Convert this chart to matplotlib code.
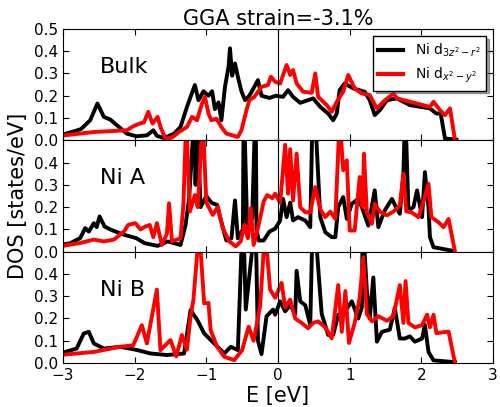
import matplotlib
matplotlib.use('Agg')
import matplotlib.pyplot as plt

# Bulk
e_bulk_z2 = [-3.04, -2.85, -2.75, -2.62, -2.52, -2.43, -2.34, -2.22, -2.11, -1.98, -1.83, -1.74, -1.69,
             -1.59, -1.45, -1.36, -1.27, -1.22, -1.16, -1.11, -1.04, -0.97, -0.92, -0.88, -0.83, -0.79,
             -0.74, -0.69, -0.67, -0.64, -0.60, -0.56, -0.51, -0.46, -0.40, -0.33, -0.28, -0.23, -0.12,
             -0.03, 0.07, 0.14, 0.21, 0.31, 0.49, 0.59, 0.70, 0.77, 0.82, 0.86, 0.93, 1.05, 1.21, 1.28,
             1.35, 1.42, 1.52, 1.66, 1.84, 2.12, 2.21, 2.27, 2.33, 2.49]
dos_bulk_z2 = [0.022, 0.04, 0.05, 0.09, 0.165, 0.105, 0.093, 0.06, 0.03, 0.018, 0.022, 0.045, 0.02,
               0.01, 0.03, 0.06, 0.15, 0.195, 0.248, 0.18, 0.22, 0.2, 0.22, 0.14, 0.17, 0.09,
               0.24, 0.33, 0.413, 0.29, 0.345, 0.285, 0.22, 0.18, 0.2, 0.24, 0.27, 0.2, 0.19,
               0.2, 0.195, 0.225, 0.195, 0.168, 0.188, 0.15, 0.12, 0.09, 0.12, 0.225, 0.255, 0.233, 0.218, 0.18,
               0.113, 0.135, 0.18, 0.188, 0.158, 0.143, 0.12, 0.12, 0.008, 0.003]
e_bulk_x2 = [-3.04, -2.57, -2.11, -2.02, -1.93, -1.87, -1.81, -1.75, -1.68, -1.64, -1.57, -1.48, -1.38,
             -1.27, -1.20, -1.13, -1.06, -1.02, -0.97, -0.93, -0.86, -0.79, -0.72, -0.56, -0.51, -0.44,
             -0.40, -0.33, -0.23, -0.14, -0.10, -0.04, 0.03, 0.12, 0.17, 0.21, 0.26, 0.35, 0.47, 0.52,
             0.56, 0.68, 0.75, 0.82, 0.91, 0.98, 1.07, 1.17, 1.28, 1.38, 1.47, 1.61, 1.66, 1.84, 2.12,
             2.17, 2.26, 2.33, 2.40, 2.47]
dos_bulk_x2 = [0.02, 0.037, 0.045, 0.063, 0.075, 0.08, 0.128, 0.075, 0.105, 0.06, 0.007, 0.012, 0.037,
               0.06, 0.105, 0.09, 0.165, 0.195, 0.12, 0.09, 0.097, 0.06, 0.03, 0.015, 0.045, 0.135,
               0.18, 0.195, 0.24, 0.248, 0.285, 0.263, 0.255, 0.338, 0.293, 0.315, 0.255, 0.218, 0.213, 0.3,
               0.195, 0.158, 0.128, 0.173, 0.218, 0.293, 0.233, 0.21, 0.203, 0.143, 0.173, 0.21, 0.188, 0.173, 0.15,
               0.173, 0.135, 0.113, 0.143, 0.0]

# Ni A
e_a_z2 = [-3.04, -2.90, -2.76, -2.69, -2.64, -2.57, -2.53, -2.49, -2.42, -2.33, -2.15, -1.98, -1.86,
          -1.68, -1.54, -1.36, -1.29, -1.24, -1.17, -1.15, -1.13, -1.08, -1.00, -0.93, -0.85, -0.78,
          -0.72, -0.65, -0.60, -0.56, -0.49, -0.48, -0.47, -0.43, -0.36, -0.32, -0.31, -0.30, -0.27,
          -0.20, -0.12, -0.04, 0.03, 0.07, 0.12, 0.17, 0.21, 0.28, 0.38, 0.45, 0.48, 0.50, 0.52, 0.59,
          0.66, 0.75, 0.80, 0.84, 0.91, 0.96, 1.03, 1.12, 1.17, 1.26, 1.35, 1.40, 1.49, 1.59, 1.63,
          1.70, 1.75, 1.77, 1.78, 1.82, 1.89, 1.94, 2.01, 2.05, 2.10, 2.12, 2.17, 2.42]
dos_a_z2 = [0.03, 0.038, 0.061, 0.106, 0.09, 0.128, 0.11, 0.158, 0.113, 0.098, 0.076, 0.061, 0.038,
            0.026, 0.046, 0.03, 0.12, 0.24, 0.6, 0.3, 0.6, 0.2, 0.25, 0.22, 0.21, 0.12,
            0.05, 0.06, 0.23, 0.06, 0.1, 0.6, 0.6, 0.1, 0.15, 0.6, 0.6, 0.1, 0.05,
            0.05, 0.09, 0.103, 0.14, 0.237, 0.155, 0.22, 0.14, 0.155, 0.14, 0.11, 0.6, 0.6, 0.6, 0.155,
            0.087, 0.065, 0.065, 0.2, 0.245, 0.147, 0.215, 0.237, 0.2, 0.117, 0.275, 0.11, 0.185, 0.237, 0.21,
            0.17, 0.35, 0.6, 0.6, 0.185, 0.2, 0.275, 0.155, 0.357, 0.2, 0.065, 0.02, 0.005]
e_a_x2 = [-3.04, -2.76, -2.57, -2.43, -2.29, -2.15, -2.09, -1.99, -1.92, -1.85, -1.79, -1.74, -1.69,
          -1.62, -1.55, -1.52, -1.48, -1.36, -1.32, -1.28, -1.23, -1.16, -1.12, -1.05, -1.00, -0.91,
          -0.84, -0.77, -0.68, -0.59, -0.52, -0.47, -0.42, -0.38, -0.34, -0.27, -0.20, -0.15, -0.08,
          -0.04, 0.03, 0.10, 0.14, 0.17, 0.21, 0.26, 0.31, 0.38, 0.45, 0.52, 0.59, 0.66, 0.73, 0.80,
          0.86, 0.91, 0.96, 1.00, 1.07, 1.14, 1.18, 1.20, 1.24, 1.31, 1.35, 1.42, 1.52, 1.61, 1.70,
          1.75, 1.79, 1.86, 1.96, 2.05, 2.10, 2.14, 2.24, 2.31, 2.38, 2.47]
dos_a_x2 = [0.024, 0.039, 0.054, 0.046, 0.054, 0.09, 0.12, 0.128, 0.1, 0.113, 0.12, 0.065, 0.128,
            0.03, 0.08, 0.217, 0.046, 0.06, 0.21, 0.6, 0.18, 0.254, 0.2, 0.6, 0.22, 0.165,
            0.2, 0.105, 0.046, 0.024, 0.046, 0.12, 0.06, 0.195, 0.03, 0.12, 0.225, 0.254, 0.24,
            0.26, 0.22, 0.48, 0.26, 0.46, 0.23, 0.44, 0.2, 0.177, 0.177, 0.29, 0.19, 0.155, 0.18, 0.147,
            0.6, 0.365, 0.41, 0.095, 0.095, 0.335, 0.2, 0.44, 0.177, 0.125, 0.215, 0.18, 0.163, 0.18, 0.207,
            0.35, 0.18, 0.177, 0.155, 0.245, 0.305, 0.155, 0.132, 0.11, 0.147, 0.0]

# Ni B
e_b_z2 = [-3.04, -2.81, -2.71, -2.64, -2.57, -2.43, -2.20, -1.96, -1.78, -1.55, -1.31, -1.22, -1.12,
          -1.03, -0.89, -0.75, -0.66, -0.56, -0.50, -0.49, -0.48, -0.45, -0.33, -0.32, -0.31, -0.28,
          -0.23, -0.16, -0.07, -0.04, 0.03, 0.10, 0.17, 0.24, 0.26, 0.31, 0.38, 0.45, 0.48, 0.50,
          0.52, 0.61, 0.70, 0.77, 0.84, 0.93, 1.03, 1.12, 1.17, 1.18, 1.19, 1.24, 1.28, 1.33, 1.38,
          1.45, 1.56, 1.63, 1.70, 1.77, 1.84, 1.91, 2.01, 2.05, 2.10, 2.17, 2.47]
dos_b_z2 = [0.043, 0.065, 0.133, 0.14, 0.088, 0.065, 0.073, 0.058, 0.043, 0.036, 0.043, 0.238, 0.19,
            0.133, 0.088, 0.043, 0.073, 0.058, 0.6, 0.6, 0.6, 0.24, 0.6, 0.6, 0.6, 0.1,
            0.04, 0.21, 0.24, 0.217, 0.277, 0.232, 0.26, 0.22, 0.414, 0.277, 0.26, 0.171, 0.6, 0.6,
            0.6, 0.22, 0.126, 0.126, 0.217, 0.23, 0.277, 0.2, 0.25, 0.6, 0.6, 0.323, 0.2, 0.384, 0.096,
            0.14, 0.15, 0.247, 0.11, 0.11, 0.12, 0.096, 0.11, 0.171, 0.05, 0.012, 0.004]
e_b_x2 = [-3.04, -2.57, -2.20, -2.02, -1.90, -1.83, -1.69, -1.64, -1.50, -1.42, -1.34, -1.27, -1.22,
          -1.18, -1.10, -1.03, -0.97, -0.94, -0.85, -0.75, -0.61, -0.50, -0.41, -0.34, -0.25, -0.18,
          -0.11, -0.04, 0.05, 0.10, 0.17, 0.24, 0.33, 0.42, 0.49, 0.56, 0.66, 0.75, 0.84, 0.89, 0.94,
          0.99, 1.07, 1.14, 1.19, 1.24, 1.31, 1.40, 1.52, 1.61, 1.70, 1.75, 1.78, 1.82, 1.91, 2.01,
          2.08, 2.12, 2.17, 2.21, 2.38, 2.47]
dos_b_x2 = [0.036, 0.05, 0.073, 0.08, 0.17, 0.088, 0.33, 0.058, 0.103, 0.03, 0.126, 0.06, 0.21,
            0.284, 0.6, 0.268, 0.27, 0.148, 0.073, 0.028, 0.013, 0.058, 0.163, 0.1, 0.254, 0.6,
            0.33, 0.293, 0.36, 0.25, 0.285, 0.2, 0.18, 0.156, 0.18, 0.187, 0.16, 0.111, 0.35, 0.14, 0.323,
            0.09, 0.18, 0.293, 0.475, 0.22, 0.187, 0.21, 0.19, 0.21, 0.35, 0.18, 0.368, 0.18, 0.16, 0.17,
            0.217, 0.16, 0.217, 0.134, 0.141, 0.0]

panels = [
    ('Bulk', e_bulk_z2, dos_bulk_z2, e_bulk_x2, dos_bulk_x2),
    ('Ni A', e_a_z2, dos_a_z2, e_a_x2, dos_a_x2),
    ('Ni B', e_b_z2, dos_b_z2, e_b_x2, dos_b_x2),
]

fig, axes = plt.subplots(3, 1, figsize=(5, 4.07), dpi=100, sharex=True)
fig.subplots_adjust(left=0.126, right=0.986, top=0.929, bottom=0.108, hspace=0)

for i, (name, ez, dz, ex, dx) in enumerate(panels):
    ax = axes[i]
    ax.plot(ez, dz, color='black', lw=2.8, label=r'Ni d$_{3z^2-r^2}$')
    ax.plot(ex, dx, color='red', lw=2.8, label=r'Ni d$_{x^2-y^2}$')
    ax.axvline(0, color='black', lw=0.8)
    ax.set_xlim(-3, 3)
    ax.set_ylim(0, 0.5)
    if i == 0:
        ax.set_yticks([0.0, 0.1, 0.2, 0.3, 0.4, 0.5])
    else:
        ax.set_yticks([0.0, 0.1, 0.2, 0.3, 0.4])
    ax.set_xticks([-3, -2, -1, 0, 1, 2, 3])
    ax.tick_params(direction='in', top=True, right=True, length=4, labelsize=11)
    ax.text(0.086, 0.66, name, transform=ax.transAxes, fontsize=16, va='center', ha='left')

leg = axes[0].legend(loc='upper right', fontsize=10, shadow=True, fancybox=False,
                     handlelength=1.8, borderaxespad=0.5)
leg.get_frame().set_edgecolor('black')
for line in leg.get_lines():
    line.set_linewidth(3)

axes[0].set_title('GGA strain=-3.1%', fontsize=15, pad=3)
axes[1].set_ylabel('DOS [states/eV]', fontsize=15)
axes[2].set_xlabel('E [eV]', fontsize=15, labelpad=2)

plt.savefig('out.png')
plt.close()
